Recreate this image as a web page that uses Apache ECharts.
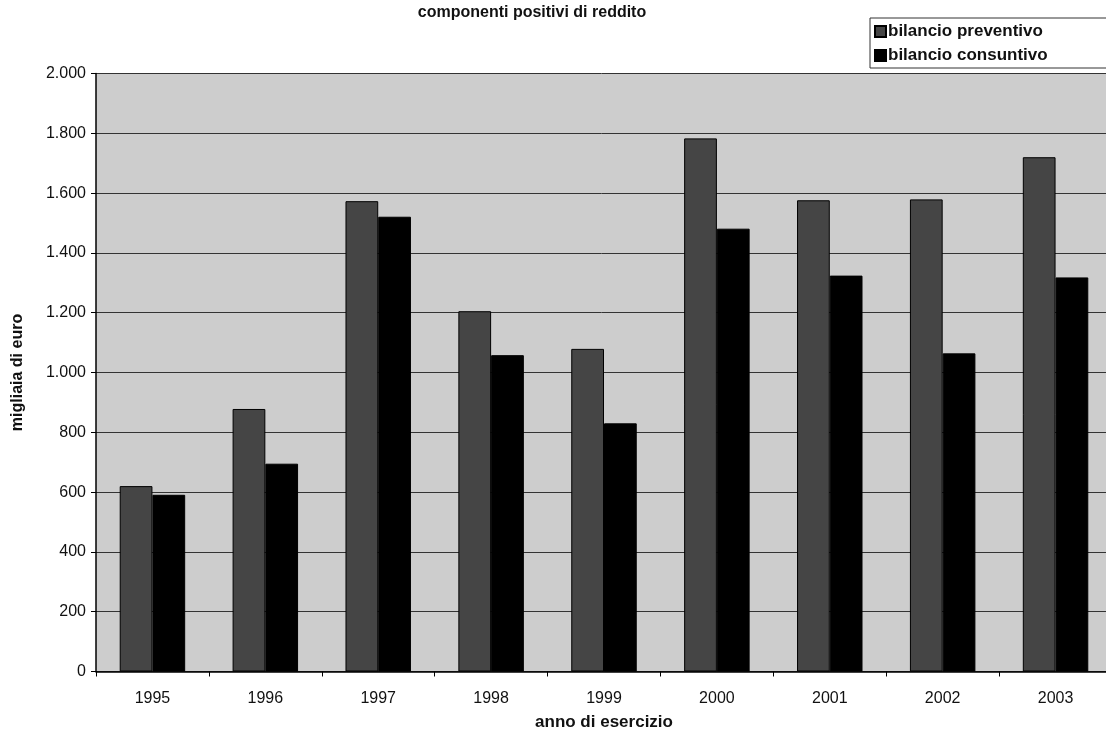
<!DOCTYPE html>
<html>
<head>
<meta charset="utf-8">
<script src="https://cdn.jsdelivr.net/npm/echarts@6/dist/echarts.min.js"></script>
<style>
  html, body { margin: 0; padding: 0; background: #fff; }
  #chart-container { width: 1106px; height: 737px; }
</style>
</head>
<body>
<div id="chart-container"></div>
<script>
var years = ["1995", "1996", "1997", "1998", "1999", "2000", "2001", "2002", "2003"];
var preventivo = [620, 878, 1573, 1205, 1079, 1783, 1576, 1579, 1720];
var consuntivo = [591, 695, 1521, 1058, 830, 1481, 1324, 1064, 1318];
var yTicks = [0, 200, 400, 600, 800, 1000, 1200, 1400, 1600, 1800, 2000];

var FONT = "Liberation Sans, Arial, sans-serif";

var dom = document.getElementById("chart-container");
var myChart = echarts.init(dom, null, { renderer: "canvas" });

var option = {
  backgroundColor: "#ffffff",
  textStyle: { fontFamily: FONT },
  title: {
    text: "componenti positivi di reddito",
    left: 527,
    top: 0,
    textAlign: "center",
    textStyle: { fontSize: 16, fontWeight: "bold", color: "#111", fontFamily: FONT },
  },
  legend: {
    orient: "vertical",
    left: 870,
    top: 18,
    itemWidth: 11,
    itemHeight: 11,
    itemGap: 7,
    padding: [5, 60, 4, 4],
    borderColor: "#333",
    borderWidth: 1,
    backgroundColor: "#fff",
    icon: "rect",
    textStyle: { fontSize: 17, fontWeight: "bold", color: "#111", fontFamily: FONT, padding: [0, 0, 0, -3] },
    data: ["bilancio preventivo", "bilancio consuntivo"],
  },
  grid: {
    left: 96,
    right: -6,
    top: 73.5,
    bottom: 65.5,
    outerBoundsMode: "none",
    containLabel: false,
    show: true,
    backgroundColor: "#cdcdcd",
    borderWidth: 0,
  },
  xAxis: {
    type: "category",
    data: years,
    name: "anno di esercizio",
    nameLocation: "middle",
    nameGap: 42,
    nameTextStyle: { fontSize: 17, fontWeight: "bold", color: "#111", fontFamily: FONT },
    axisLine: { lineStyle: { color: "#000", width: 1.5 } },
    axisTick: { show: true, length: 5, lineStyle: { color: "#000" } },
    axisLabel: { fontSize: 16, color: "#111", margin: 19, fontFamily: FONT },
  },
  yAxis: {
    type: "value",
    min: 0,
    max: 2000,
    interval: 200,
    name: "migliaia di euro",
    nameLocation: "middle",
    nameGap: 70,
    nameRotate: 90,
    nameTextStyle: { fontSize: 16, fontWeight: "bold", color: "#111", fontFamily: FONT },
    axisLine: { show: true, lineStyle: { color: "#000", width: 1.5 } },
    axisTick: { show: true, length: 5, lineStyle: { color: "#000" } },
    axisLabel: {
      fontSize: 16,
      color: "#111",
      margin: 10,
      fontFamily: FONT,
      formatter: function (v) {
        return yTicks.indexOf(v) >= 0 ? v.toLocaleString("it-IT") : "";
      },
    },
    splitLine: { show: true, lineStyle: { color: "#333", width: 1 } },
  },
  series: [
    {
      name: "bilancio preventivo",
      type: "bar",
      data: preventivo,
      barGap: "0%",
      barCategoryGap: "42%",
      itemStyle: { color: "#454545", borderColor: "#000", borderWidth: 1 },
    },
    {
      name: "bilancio consuntivo",
      type: "bar",
      data: consuntivo,
      itemStyle: { color: "#000000", borderColor: "#000", borderWidth: 1 },
    },
  ],
};

myChart.setOption(option);
window.addEventListener("resize", myChart.resize);
</script>
</body>
</html>
